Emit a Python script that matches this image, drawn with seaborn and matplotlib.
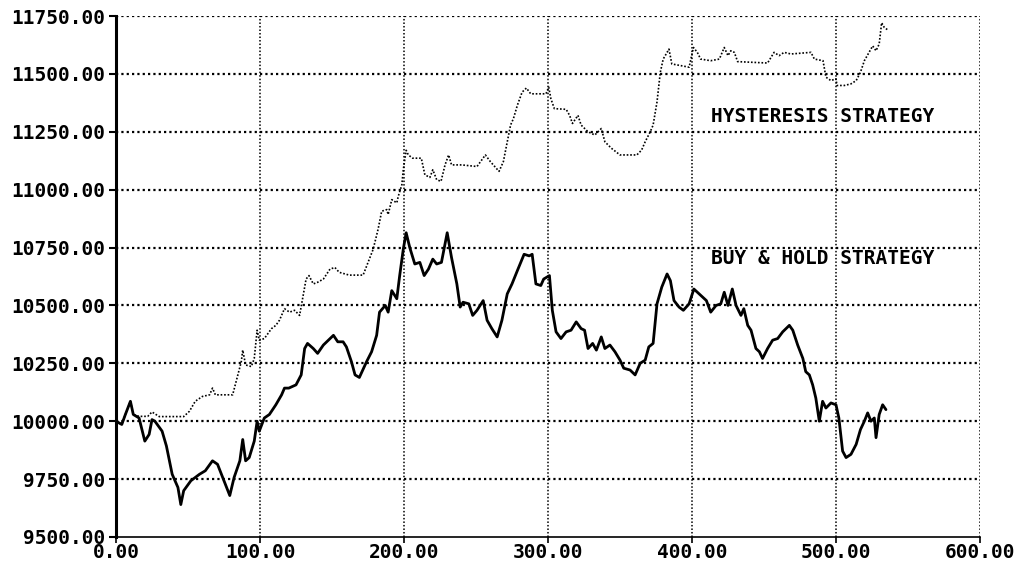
import pandas as pd
import matplotlib
matplotlib.use("Agg")
import matplotlib.pyplot as plt
import seaborn as sns

# Buy & hold equity curve
bh_x = [0, 4, 6.5, 10, 12, 16, 20, 23, 25, 27, 32, 35, 39, 43, 45, 47, 52, 58, 62, 67,
        70.5, 75, 79, 82, 86, 88, 90, 92.5, 96, 98, 99.5, 103, 106.5, 111, 115, 117, 120,
        125, 128.6, 131, 133, 137, 140, 144, 151, 154, 157.7, 160, 163.5, 166, 169, 174,
        177.5, 181, 183, 187, 189, 191.5, 195, 197, 199.5, 201.5, 204, 207.5, 211, 214,
        217, 220, 222.7, 226, 230, 233, 236.7, 239, 241, 245, 247.7, 250.7, 255, 257.7,
        261, 264.7, 268, 271.7, 275, 278.7, 283.4, 287, 289, 291.6, 295, 297, 301, 303,
        305.6, 309, 312.6, 316, 319.6, 323, 325.4, 327.8, 331, 333.6, 337, 339.5, 343,
        346.5, 350, 352.6, 357, 360.5, 364, 367.5, 370, 373, 375.7, 379, 382.7, 385,
        387.5, 391, 394, 398, 401.3, 405, 410, 413, 416.7, 420, 422.4, 425, 428, 430.6,
        434, 436, 438.7, 441, 444.4, 446.8, 449, 452.5, 456, 459.5, 463, 467.6, 470,
        473.4, 477, 479, 481.5, 483.8, 486, 488.4, 490.7, 493, 496.5, 500, 502, 504.6,
        507, 510.4, 514, 517, 519.7, 522, 524.3, 526.6, 527.8, 530, 532.4, 534.7]
bh_y = [10000, 9986, 10029, 10086, 10029, 10014, 9914, 9943, 10007, 10000, 9957, 9893,
        9771, 9714, 9640, 9700, 9743, 9771, 9786, 9829, 9814, 9743, 9679, 9757, 9829,
        9921, 9829, 9843, 9914, 10000, 9957, 10014, 10029, 10071, 10114, 10143, 10143,
        10157, 10200, 10314, 10336, 10314, 10293, 10329, 10371, 10343, 10343, 10321,
        10257, 10200, 10189, 10257, 10300, 10371, 10471, 10500, 10471, 10564, 10529,
        10629, 10743, 10814, 10750, 10679, 10686, 10629, 10657, 10700, 10679, 10686,
        10814, 10707, 10593, 10493, 10514, 10507, 10457, 10479, 10521, 10436, 10400,
        10364, 10436, 10550, 10593, 10650, 10721, 10714, 10721, 10593, 10586, 10614,
        10629, 10479, 10386, 10357, 10386, 10393, 10429, 10400, 10393, 10314, 10336,
        10307, 10364, 10314, 10329, 10300, 10264, 10229, 10221, 10200, 10250, 10264,
        10321, 10336, 10507, 10579, 10636, 10607, 10521, 10493, 10479, 10507, 10571,
        10550, 10521, 10471, 10500, 10507, 10557, 10500, 10571, 10500, 10457, 10486,
        10414, 10393, 10314, 10300, 10271, 10314, 10350, 10357, 10386, 10414, 10393,
        10329, 10271, 10214, 10200, 10157, 10100, 10000, 10086, 10057, 10079, 10071,
        10014, 9871, 9843, 9857, 9900, 9964, 10000, 10036, 10000, 10014, 9929, 10029,
        10071, 10050]

# Hysteresis strategy equity curve
hy_x = [0, 4, 6.5, 10, 12, 16, 22, 25, 30, 47, 51, 55, 60, 65, 67, 69, 81, 84, 87, 88,
        90, 94, 96, 98, 99.5, 103, 108, 111, 113.5, 117, 120.5, 124, 127.5, 130, 132,
        134, 137, 140, 144, 148.6, 152, 155, 162, 171.6, 175, 178.6, 182, 184.5, 188,
        189, 191.5, 195, 196, 198.5, 199.5, 201.5, 203, 206, 212, 214.5, 218, 220, 222.7,
        225.7, 228.5, 231, 233, 240, 250.7, 256.5, 260, 266, 269, 271.7, 274, 276, 278.7,
        282, 285, 288, 298.6, 300.5, 302, 304.4, 312.6, 315, 317, 320.8, 323, 327.8,
        332.5, 337, 339.5, 344, 350, 361.7, 365, 367.5, 371, 373, 375.7, 378, 380, 384,
        386, 392, 398, 401, 403.7, 406, 413, 419, 422.4, 425, 427, 429.4, 431.7, 443,
        452.5, 457, 460.5, 464, 468.7, 482.6, 485, 491, 493, 496.5, 500, 500.7, 505.8,
        510.4, 514, 517, 519.7, 523, 525.5, 527.8, 530, 531.7, 533.6, 536]
hy_y = [10000, 9986, 10029, 10086, 10029, 10021, 10021, 10040, 10020, 10020, 10043,
        10086, 10107, 10114, 10143, 10114, 10114, 10186, 10257, 10307, 10243, 10236,
        10271, 10393, 10350, 10357, 10400, 10414, 10436, 10486, 10471, 10479, 10457,
        10543, 10614, 10629, 10593, 10600, 10614, 10657, 10664, 10643, 10631, 10631,
        10686, 10743, 10829, 10907, 10914, 10893, 10957, 10943, 10971, 11021, 11086,
        11170, 11150, 11136, 11136, 11064, 11053, 11086, 11043, 11036, 11107, 11150,
        11107, 11107, 11100, 11150, 11121, 11079, 11121, 11207, 11279, 11307, 11364,
        11421, 11439, 11414, 11414, 11443, 11393, 11350, 11347, 11321, 11286, 11321,
        11279, 11250, 11236, 11264, 11207, 11179, 11150, 11150, 11171, 11207, 11250,
        11279, 11379, 11507, 11564, 11607, 11543, 11536, 11529, 11614, 11593, 11564,
        11557, 11564, 11614, 11579, 11600, 11593, 11553, 11550, 11547, 11593, 11579,
        11593, 11586, 11593, 11564, 11557, 11486, 11471, 11479, 11450, 11450, 11457,
        11471, 11507, 11557, 11593, 11621, 11600, 11629, 11721, 11700, 11690]

x_ticks = [0, 100, 200, 300, 400, 500, 600]
y_ticks = [9500, 9750, 10000, 10250, 10500, 10750, 11000, 11250, 11500, 11750]

bh = pd.DataFrame({"t": bh_x, "value": bh_y})
hy = pd.DataFrame({"t": hy_x, "value": hy_y})

sns.set_style("white")
plt.rcParams["font.family"] = ["DejaVu Sans Mono"]
plt.rcParams["text.color"] = "black"
plt.rcParams["xtick.color"] = "black"
plt.rcParams["ytick.color"] = "black"

fig = plt.figure(figsize=(10.15, 5.68), dpi=100)
ax = fig.add_axes([0.1143, 0.0546, 0.8512, 0.9172])

# Dotted grid like the old printout
grid_kw = dict(color="black", linewidth=1.6, linestyle=(0, (1, 1.4)), zorder=1)
for yv in y_ticks[1:]:
    ax.axhline(yv, **grid_kw)
for xv in x_ticks[1:]:
    ax.axvline(xv, color="black", linewidth=1.1, linestyle=(0, (1, 1.3)), zorder=1)

sns.lineplot(data=hy, x="t", y="value", ax=ax, color="black", linewidth=1.2,
             linestyle=(0, (1, 1.1)), estimator=None, sort=False, zorder=3)
sns.lineplot(data=bh, x="t", y="value", ax=ax, color="black", linewidth=2.0,
             estimator=None, sort=False, zorder=4)

ax.set_xlim(0, 600)
ax.set_ylim(9500, 11750)
ax.set_xticks(x_ticks)
ax.set_yticks(y_ticks)
ax.set_xticklabels([f"{v:.2f}" for v in x_ticks], fontsize=14, fontweight="bold")
ax.set_yticklabels([f"{v:.2f}" for v in y_ticks], fontsize=14, fontweight="bold")
ax.set_xlabel("")
ax.set_ylabel("")
ax.tick_params(axis="y", length=5, width=1.5, pad=3, left=True, direction="out")
ax.tick_params(axis="x", length=4, width=1.2, pad=0, bottom=True, direction="out")

for side in ["top", "right"]:
    ax.spines[side].set_visible(False)
ax.spines["left"].set_linewidth(2.2)
ax.spines["bottom"].set_linewidth(1.2)
ax.spines["left"].set_color("black")
ax.spines["bottom"].set_color("black")

ax.text(413, 11314, "HYSTERESIS STRATEGY", fontsize=14, fontweight="bold",
        va="center", ha="left", zorder=5)
ax.text(413, 10701, "BUY & HOLD STRATEGY", fontsize=14, fontweight="bold",
        va="center", ha="left", zorder=5)

fig.savefig("out.png", dpi=100, facecolor="white")
